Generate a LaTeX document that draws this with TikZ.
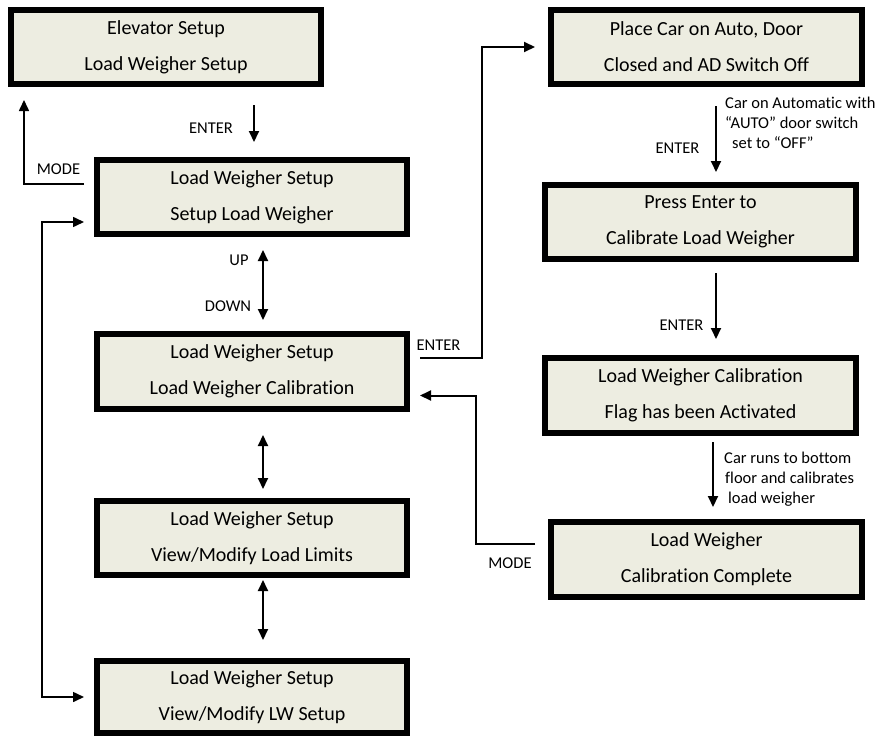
\documentclass[tikz,border=0pt]{standalone}
\usepackage{fontspec}
\setmainfont[Ligatures=NoCommon]{Carlito}
\usetikzlibrary{arrows.meta}
\definecolor{lcdfill}{RGB}{237,237,225}
\tikzset{
  screen/.style={draw=black, line width=6pt, fill=lcdfill, inner sep=0pt,
    align=center, font=\fontsize{20}{36}\selectfont},
  arr/.style={line width=2pt, -{Triangle[length=11pt,width=10pt]}},
  thinarr/.style={line width=1.6pt, -{Triangle[length=11pt,width=10pt]}},
  dbl/.style={line width=2pt, {Triangle[length=11pt,width=10pt]}-{Triangle[length=11pt,width=10pt]}},
  lbl/.style={inner sep=0pt, font=\fontsize{16.5}{20}\selectfont},
  note/.style={inner sep=0pt, align=left, anchor=north west, font=\fontsize{16.5}{20}\selectfont}
}
\begin{document}
\begin{tikzpicture}[x=1pt, y=-1pt]
\useasboundingbox (0,0) rectangle (881,736);

% menu screens, left column
\node[screen, minimum width=310pt, minimum height=74pt] (b1) at (166,47)
  {Elevator Setup\\Load Weigher Setup};
\node[screen, minimum width=310pt, minimum height=74pt] (b2) at (252,197)
  {Load Weigher Setup\\Setup Load Weigher};
\node[screen, minimum width=310pt, minimum height=75pt] (b3) at (252,371.5)
  {Load Weigher Setup\\Load Weigher Calibration};
\node[screen, minimum width=310pt, minimum height=74pt] (b4) at (252,538)
  {Load Weigher Setup\\View/Modify Load Limits};
\node[screen, minimum width=310pt, minimum height=72pt] (b5) at (252,697)
  {Load Weigher Setup\\View/Modify LW Setup};

% calibration screens, right column
\node[screen, minimum width=311pt, minimum height=74pt] (r1) at (706.5,47)
  {Place Car on Auto, Door\\Closed and AD Switch Off};
\node[screen, minimum width=311pt, minimum height=74pt] (r2) at (700.5,222)
  {Press Enter to\\Calibrate Load Weigher};
\node[screen, minimum width=311pt, minimum height=75pt] (r3) at (700.5,395.5)
  {Load Weigher Calibration\\Flag has been Activated};
\node[screen, minimum width=311pt, minimum height=75pt] (r4) at (706.5,559.5)
  {Load Weigher\\Calibration Complete};

% left column connectors
\draw[arr] ([xshift=88pt,yshift=-18pt]b1.south) -- ([xshift=2pt,yshift=15pt]b2.north);
\node[lbl] (lenter) at (211,128) {ENTER};

\draw[thinarr] ([xshift=-10pt,yshift=13pt]b2.west) -| ([xshift=16pt,yshift=-13pt]b1.south west);
\node[lbl] (lmode) at (58.5,169) {MODE};

\draw[dbl] ([xshift=11pt,yshift=-13pt]b2.south) -- ([xshift=11pt,yshift=11pt]b3.north);
\node[lbl] (lup) at (239,260) {UP};
\node[lbl] (ldown) at (228,306) {DOWN};

\draw[dbl] ([xshift=11pt,yshift=-23pt]b3.south) -- ([xshift=11pt,yshift=9pt]b4.north);
\draw[dbl] ([xshift=11pt,yshift=-2pt]b4.south) -- ([xshift=11pt,yshift=18pt]b5.north);

\draw[thinarr, {Triangle[length=11pt,width=10pt]}-{Triangle[length=11pt,width=10pt]}]
  ([xshift=-10pt,yshift=-25pt]b2.west) -- ++(-42,0) |- ([xshift=-10pt]b5.west);

% calibration path
\draw[arr] ([xshift=10pt,yshift=14pt]b3.east) -- ++(62,0) |- ([xshift=-13pt]r1.west);
\node[lbl] (renter) at (438.5,345) {ENTER};

\draw[arr] ([xshift=9.5pt,yshift=-19pt]r1.south) -- ([xshift=15.5pt,yshift=10pt]r2.north);
\node[lbl] (r1enter) at (677.5,148) {ENTER};
\node[note] (r1note) at (725,97)
  {Car on Automatic with\\“AUTO” door switch\\\hspace{7pt}set to “OFF”};

\draw[arr] ([xshift=15.5pt,yshift=-11pt]r2.south) -- ([xshift=15.5pt,yshift=16pt]r3.north);
\node[lbl] (r2enter) at (681.5,325) {ENTER};

\draw[arr] ([xshift=12.5pt,yshift=-6pt]r3.south) -- ([xshift=6.5pt,yshift=12pt]r4.north);
\node[note] (r3note) at (724,452)
  {Car runs to bottom\\\hspace{1pt}floor and calibrates\\\hspace{4pt}load weigher};

\draw[arr] ([xshift=-13pt,yshift=16pt]r4.west) -- ++(-59,0) |- ([xshift=10pt,yshift=-24pt]b3.east);
\node[lbl] (r4mode) at (510,563) {MODE};
\end{tikzpicture}
\end{document}
